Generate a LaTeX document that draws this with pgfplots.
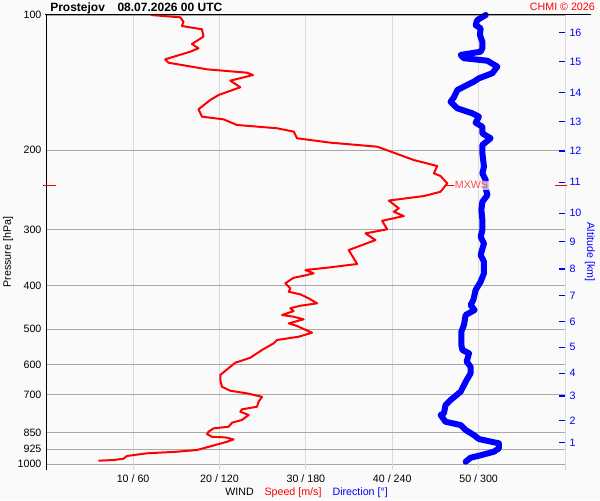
\documentclass[border=0pt]{standalone}
\usepackage{fontspec}
\setmainfont{Liberation Sans}
\usepackage{pgfplots}
\usepackage{pgfplotstable}
\pgfplotsset{compat=1.18}

\definecolor{bg}{RGB}{250,250,250}
\definecolor{hgrid}{RGB}{168,168,168}
\definecolor{vgrid}{RGB}{218,218,218}
\definecolor{mxws}{RGB}{255,75,75}

% wind speed [m/s] against pressure [hPa]
\pgfplotstableread{
p s
100 12.05
101.2 15.45
103.5 15.83
105.8 15.65
107.6 17.97
111.7 18.15
116.0 16.81
118.6 17.57
120.7 16.61
125.5 13.71
127.7 14.09
132.1 18.55
134.4 23.18
136.0 23.88
140.0 21.25
144.8 22.41
150.7 19.89
154.6 18.93
162.1 17.57
168.4 17.97
170.7 20.47
175.7 22.02
178.7 26.66
181.8 28.59
188.1 28.98
192.4 32.84
196.4 38.26
202.5 40.18
210.3 42.50
216.8 45.21
225.1 44.82
228.2 45.59
237.0 46.37
247.4 45.59
252.9 43.66
258.8 39.60
269.3 40.76
274.1 40.18
280.2 41.34
287.1 38.83
299.9 39.41
306.2 36.90
316.9 38.06
333.5 34.96
358.3 35.94
365.1 32.46
369.5 29.94
375.8 30.90
380.5 29.75
384.4 28.59
395.5 27.62
405.9 28.20
413.0 28.01
418.5 29.36
427.2 30.32
438.2 31.30
443.7 29.36
449.6 28.20
456.0 28.59
465.3 27.24
469.4 28.59
475.7 29.74
485.6 28.01
492.2 28.98
499.8 29.74
509.4 30.72
520.0 29.17
528.8 26.66
537.9 26.27
556.6 24.92
579.1 23.57
594.1 21.83
632.6 20.09
649.3 20.09
672.0 20.28
686.0 21.25
695.2 23.18
707.4 24.92
725.7 24.53
744.5 24.34
754.6 22.60
764.0 22.41
776.8 23.37
797.0 22.60
808.1 21.44
824.9 21.05
831.7 19.31
846.3 18.73
856.3 18.55
868.4 19.12
871.1 20.67
880.0 21.63
891.0 20.86
905.8 19.51
929.4 17.39
937.5 15.07
945.2 11.59
958.3 9.27
971.7 8.88
978.2 7.72
981.7 5.98
}\speed

% wind direction [deg] against pressure [hPa]
\pgfplotstableread{
p d
100 305.0
102.6 299.1
105.3 297.9
107.1 301.4
110.8 300.9
114.7 302.6
118.6 302.6
120.7 301.4
122.7 287.5
124.8 289.8
126.4 306.1
130.3 313.0
134.8 309.5
138.3 300.2
140.7 296.7
143.1 292.1
146.9 285.2
152.5 282.8
156.0 280.5
161.3 285.2
165.5 295.6
168.4 300.2
173.7 297.9
177.3 302.6
183.4 302.6
188.1 308.3
194.7 302.6
203.1 302.6
217.6 303.7
225.1 302.6
232.9 304.9
243.0 304.9
251.6 306.1
260.4 302.6
271.6 301.9
285.9 302.6
301.0 302.6
311.6 301.4
322.3 303.7
342.1 301.4
354.0 303.7
375.8 303.7
392.3 301.4
409.4 297.9
430.9 296.3
442.1 294.4
453.6 297.2
465.3 291.0
489.7 289.8
506.8 288.0
542.6 288.0
556.6 288.7
566.1 293.3
591.1 291.7
606.5 294.4
627.3 294.4
655.0 291.0
689.4 287.5
719.4 280.5
738.0 277.0
770.1 275.9
776.8 273.6
804.0 277.0
817.7 287.5
838.9 291.0
860.8 296.7
878.6 300.2
898.1 314.1
921.4 314.1
937.5 310.6
957.0 300.2
966.7 294.4
986.8 291.0
}\direction

\tikzset{
  px/.style={shift={(-35.0625pt,348.225pt)}, x=0.75pt, y=-0.75pt},
  labfont/.style={font=\fontsize{8}{9.6}\selectfont}
}

\begin{document}
\begin{tikzpicture}
\begin{scope}[px]
  \path[use as bounding box, fill=bg] (0,0) rectangle (600,500);
\end{scope}

% speed axis with pressure grid
\begin{axis}[
  at={(0,0)}, anchor=south west, scale only axis,
  width=388.69pt, height=336.98pt,
  ymode=log, ymin=100, ymax=1000, y dir=reverse,
  minor ytick={},
  /pgf/number format/assume math mode=true,
  tick label style={labfont},
  xmin=0, xmax=60,
  axis x line*=bottom, axis y line*=left,
  axis line style={draw=none},
  major tick length=0pt,
  xtick={10,20,30,40,50},
  xticklabels={10 / 60, 20 / 120, 30 / 180, 40 / 240, 50 / 300},
  ytick={100,200,300,400,500,600,700,850,925,1000},
  yticklabels={100,200,300,400,500,600,700,850,925,1000},
  xticklabel style={anchor=base, inner sep=0pt, yshift=-13.3pt},
  yticklabel style={anchor=east, inner sep=0pt, xshift=-3.8pt},
  xmajorgrids, ymajorgrids,
  x grid style={vgrid, line width=0.75pt},
  y grid style={hgrid, line width=0.75pt},
]
\addplot[red, line width=1.5pt, line join=round] table[x=s, y=p] {\speed};
\end{axis}

% direction axis with altitude ticks
\begin{axis}[
  at={(0,0)}, anchor=south west, scale only axis,
  width=388.69pt, height=336.98pt,
  ymode=log, ymin=100, ymax=1000, y dir=reverse,
  minor ytick={},
  tick label style={labfont},
  xmin=0, xmax=360,
  axis x line=none, axis y line*=right,
  y axis line style={draw=none},
  clip=false,
  ytick={895.5,799.8,704.7,627.3,549.0,480.6,421.5,367.6,319.6,276.3,235.7,200.8,172.6,148.9,127.1,109.3},
  yticklabels={1,2,3,4,5,6,7,8,9,10,11,12,13,14,15,16},
  tick align=inside, major tick length=4.5pt,
  ytick style={blue, line width=1pt},
  yticklabel style={blue, anchor=west, inner sep=0pt, xshift=3.2pt},
]
\addplot[blue, line width=4.5pt, line join=round, line cap=round] table[x=d, y=p] {\direction};
\end{axis}

\begin{scope}[px, every node/.style={inner sep=0pt, labfont}]
  % frame pieces
  \draw[black, line width=0.75pt] (45,15) -- (591,15);
  \draw[black, line width=1pt] (46.75,15) -- (46.75,469.5);
  \draw[vgrid, line width=0.75pt] (565,15) -- (565,470);
  \foreach \gx in {133.1,219.5,305.9,392.3,478.6}
    \draw[vgrid, line width=0.75pt] (\gx,464.3) -- (\gx,469.5);
  % maximum wind marker
  \draw[red, line width=0.75pt] (43,185.3) -- (56,185.3);
  \draw[red, line width=0.75pt] (555,185.3) -- (567,185.3);
  \draw[red, line width=0.75pt] (447,185.3) -- (455,185.3);
  \node[fill=white, fill opacity=0.7, text opacity=1, text=mxws, inner sep=0.6pt] at (471.5,185.3) {MXWS};
  % texts
  \node[anchor=base west, font=\bfseries\fontsize{9}{10.8}\selectfont] at (50,11.7) {Prostejov};
  \node[anchor=base west, font=\bfseries\fontsize{9}{10.8}\selectfont] at (117.3,11.7) {08.07.2026 00 UTC};
  \node[anchor=base east, text=red] at (595,10.5) {CHMI © 2026};
  \node[rotate=90] at (8,252) {Pressure [hPa]};
  \node[rotate=-90, text=blue] at (590,252) {Altitude [km]};
  \node[anchor=base west] at (225,495) {WIND};
  \node[anchor=base west, text=red] at (264.3,495) {Speed [m/s]};
  \node[anchor=base west, text=blue] at (332.3,495) {Direction [°]};
\end{scope}
\end{tikzpicture}
\end{document}
